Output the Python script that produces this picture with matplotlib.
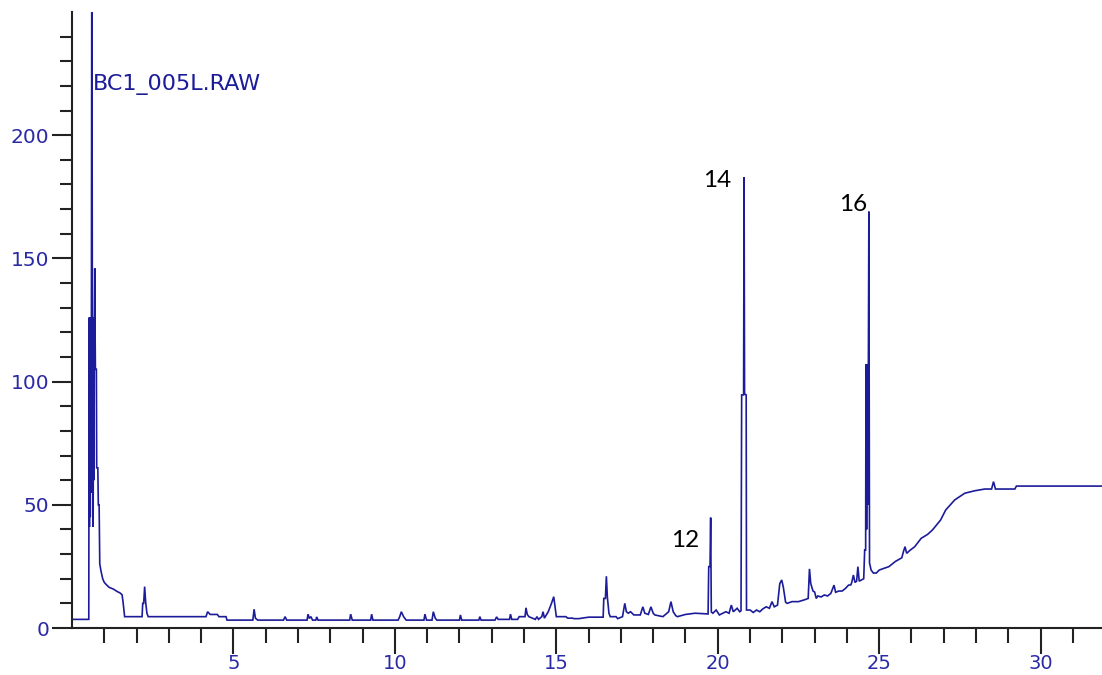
import matplotlib
matplotlib.use("Agg")
import matplotlib.pyplot as plt
import numpy as np

# retention time (min) and detector signal
rt = [0.00, 0.50, 0.52, 0.53, 0.54, 0.555, 0.565, 0.58, 0.59, 0.60, 0.615, 0.635, 0.645, 0.655,
      0.67, 0.68, 0.695, 0.705, 0.715, 0.725, 0.755, 0.765, 0.80, 0.815, 0.84, 0.86, 0.90, 0.95,
      1.00, 1.07, 1.15, 1.28, 1.40, 1.49, 1.55, 1.58, 1.63, 2.17, 2.19, 2.22, 2.25, 2.28, 2.32,
      2.36, 4.15, 4.20, 4.28, 4.50, 4.55, 4.77, 4.80, 5.60, 5.64, 5.68, 5.75, 6.55, 6.60, 6.65,
      7.28, 7.31, 7.35, 7.40, 7.45, 7.55, 7.58, 7.62, 8.60, 8.63, 8.68, 9.25, 9.28, 9.32, 10.10,
      10.15, 10.20, 10.27, 10.35, 10.90, 10.93, 10.98, 11.15, 11.19, 11.25, 11.30, 12.00, 12.03,
      12.07, 12.60, 12.63, 12.67, 13.10, 13.15, 13.20, 13.55, 13.58, 13.62, 13.80, 13.85, 14.03,
      14.06, 14.10, 14.15, 14.35, 14.40, 14.45, 14.55, 14.59, 14.63, 14.75, 14.85, 14.92, 14.96,
      15.00, 15.30, 15.35, 15.50, 15.55, 15.70, 16.00, 16.45, 16.47, 16.52, 16.55, 16.58, 16.63,
      16.67, 16.85, 16.90, 17.05, 17.12, 17.17, 17.23, 17.30, 17.40, 17.60, 17.68, 17.74, 17.85,
      17.93, 18.00, 18.05, 18.30, 18.48, 18.55, 18.62, 18.70, 18.75, 19.00, 19.30, 19.65, 19.70,
      19.72, 19.76, 19.78, 19.80, 19.85, 19.95, 20.05, 20.25, 20.35, 20.42, 20.48, 20.60, 20.68,
      20.72, 20.74, 20.80, 20.815, 20.83, 20.88, 20.89, 21.00, 21.10, 21.20, 21.30, 21.40, 21.50,
      21.60, 21.68, 21.75, 21.85, 21.92, 21.98, 22.03, 22.10, 22.15, 22.30, 22.50, 22.70, 22.80,
      22.84, 22.88, 22.95, 23.00, 23.05, 23.10, 23.20, 23.30, 23.40, 23.50, 23.60, 23.65, 23.75,
      23.85, 23.95, 24.05, 24.12, 24.15, 24.20, 24.25, 24.30, 24.34, 24.38, 24.45, 24.52, 24.55,
      24.58, 24.59, 24.61, 24.63, 24.65, 24.68, 24.70, 24.75, 24.82, 24.91, 25.00, 25.10, 25.30,
      25.50, 25.70, 25.75, 25.80, 25.85, 25.95, 26.10, 26.30, 26.50, 26.65, 26.90, 27.06, 27.34,
      27.65, 27.96, 28.27, 28.48, 28.54, 28.60, 29.20, 29.25, 31.90]
signal = [3.5, 3.5, 3.5, 126, 41, 126, 45, 122, 55, 110, 300, 70, 120, 41,
          126, 60, 126, 146, 121, 105, 105, 65, 65, 50, 50, 26, 23, 20,
          18.5, 17.5, 16.5, 15.8, 14.8, 14.2, 13.5, 10.7, 4.6, 4.6, 10, 10, 16.8, 10.7, 6,
          4.6, 4.6, 6.6, 5.5, 5.5, 4.6, 4.6, 3.2, 3.2, 7.6, 4.0, 3.2, 3.2, 4.6, 3.2,
          3.2, 5.6, 3.9, 4.6, 3.2, 3.2, 4.5, 3.2, 3.2, 5.6, 3.2, 3.2, 5.6, 3.2, 3.2,
          4.6, 6.6, 4.6, 3.2, 3.2, 5.6, 3.2, 3.2, 6.6, 4.0, 3.2, 3.2, 5.3,
          3.2, 3.2, 4.6, 3.2, 3.2, 4.5, 3.5, 3.5, 5.6, 3.5, 3.5, 4.6, 4.6,
          8.2, 5.5, 4.6, 3.5, 4.6, 3.5, 4.6, 6.6, 4.0, 6.6, 10, 12.7, 8.5,
          4.6, 4.6, 4.0, 4.0, 3.8, 3.8, 4.4, 4.4, 12, 12, 21, 12.6, 6,
          4.6, 4.6, 3.8, 4.6, 10, 6.6, 6, 6.6, 5.3, 5.3, 8.6, 6.0, 5.5,
          8.6, 6, 5.3, 4.6, 6.6, 10.7, 6.6, 5.0, 4.6, 5.5, 6.0, 5.7, 5.7,
          24.9, 24.9, 44.8, 6.5, 6.0, 7.3, 5.3, 6.6, 6.0, 9.3, 6.6, 8.0, 6.6,
          7.0, 94.6, 94.6, 183, 95, 94.6, 7.3, 7.3, 6.3, 7.3, 6.6, 7.8, 8.6,
          8.0, 10.7, 8.6, 9.3, 18, 19.5, 16.6, 10.5, 10.0, 10.7, 10.7, 11.5, 12,
          24, 18, 15, 14.6, 12, 13, 12.6, 13.4, 13, 14.0, 17.4, 14.5, 15.0,
          15.0, 16.0, 17.4, 17.5, 18.5, 21.5, 18.5, 19, 24.9, 19, 19.5, 20, 31.7,
          31.7, 107, 40, 107, 50, 169, 26.4, 23.5, 22.3, 22.3, 23.5, 24.0, 24.9,
          27, 28.5, 31, 33, 30.3, 31.5, 33, 36.4, 38, 39.8, 43.8, 47.9, 52,
          54.7, 55.7, 56.4, 56.4, 59.4, 56.4, 56.4, 57.6, 57.6]

peak_labels = ["12", "14", "16"]
peak_label_x = [18.99, 19.97, 24.18]
peak_label_y = [35.4, 181.5, 171.7]

x_major = [5, 10, 15, 20, 25, 30]
y_major = [0, 50, 100, 150, 200]

file_label = "BC1_005L.RAW"

blue = "#1c1c9a"
label_blue = "#2a2aa6"

fig = plt.figure(figsize=(11.02, 6.75), dpi=100)
ax = fig.add_axes([72 / 1102, 47 / 675, 1 - 72 / 1102, 616 / 675])

ax.plot(rt, signal, color=blue, lw=1.2, solid_joinstyle="miter")
ax.set_xlim(0, 31.9)
ax.set_ylim(0, 250)

for s in ["top", "right"]:
    ax.spines[s].set_visible(False)
for s in ["left", "bottom"]:
    ax.spines[s].set_color("#222222")
    ax.spines[s].set_linewidth(1.5)

ax.set_xticks(x_major)
ax.set_xticks([v for v in range(1, 32) if v % 5 != 0], minor=True)
ax.set_yticks(y_major)
ax.set_yticks([v for v in range(10, 250, 10) if v % 50 != 0], minor=True)

ax.tick_params(axis="x", which="major", length=19, width=1.5, color="#222222",
               labelsize=14, labelcolor=label_blue, pad=0)
ax.tick_params(axis="x", which="minor", length=11, width=1.5, color="#222222")
ax.tick_params(axis="y", which="major", length=14.5, width=1.5, color="#222222",
               labelsize=14.5, labelcolor=label_blue, pad=2)
ax.tick_params(axis="y", which="minor", length=8.5, width=1.5, color="#222222")

ax.text(0.65, 220.4, file_label, color=blue, fontsize=16, ha="left", va="center")

for lab, lx, ly in zip(peak_labels, peak_label_x, peak_label_y):
    ax.text(lx, ly, lab, color="black", fontsize=17.5, family="Lato",
            ha="center", va="center")

fig.savefig("out.png", dpi=100)
